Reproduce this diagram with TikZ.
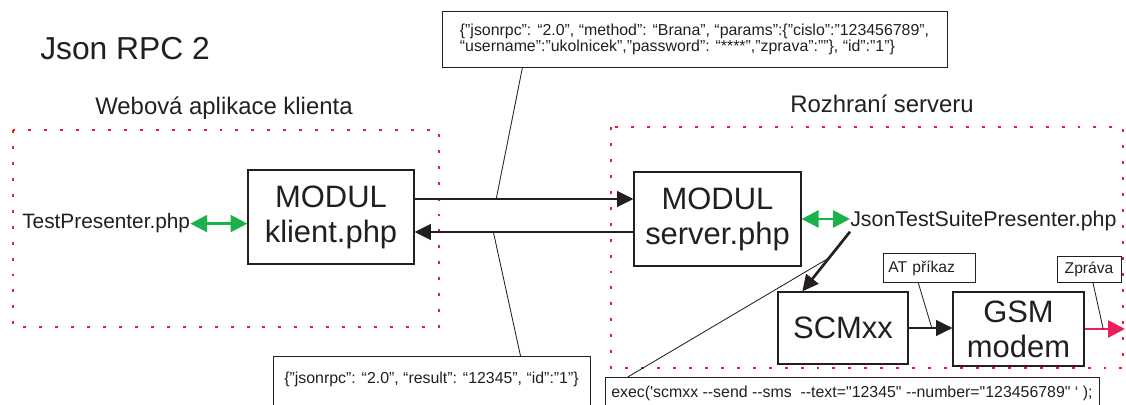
\documentclass[tikz,border=0pt]{standalone}
\usepackage{fontspec}
\setmainfont{Liberation Sans}
\newfontfamily\codefont{Liberation Sans}[Ligatures=TeXOff]
\usepackage{xcolor}
\definecolor{Ink}{RGB}{35,31,32}
\definecolor{Red}{RGB}{237,28,36}
\definecolor{Green}{RGB}{28,178,75}
\definecolor{Pink}{RGB}{237,30,90}
\usetikzlibrary{arrows.meta,calc}
\tikzset{
	zone/.style={draw=Red, line width=2.1pt, dash pattern=on 2.1pt off 9.24pt, line cap=butt},
	module/.style={draw=Ink, line width=0.85pt, text=Ink, align=center, inner sep=0pt, font=\fontsize{22}{24.8}\selectfont},
	heading/.style={text=Ink, inner sep=0pt, anchor=base west, font=\fontsize{17}{20}\selectfont},
	filetext/.style={text=Ink, inner sep=0pt, anchor=base west, font=\fontsize{14.8}{17}\selectfont},
	note/.style={draw=Ink, line width=0.6pt, text=Ink, inner sep=0pt, font=\codefont\fontsize{11.3}{11.3}\selectfont},
	tag/.style={draw=Ink, line width=0.6pt, text=Ink, inner sep=0pt, font=\fontsize{11.1}{13}\selectfont},
	flow/.style={draw=Ink, line width=1.9pt, -{Triangle[length=11.5pt,width=11pt]}},
	link/.style={draw=Green, line width=1.9pt, {Triangle[length=12pt,width=12pt]}-{Triangle[length=12pt,width=12pt]}},
	sendline/.style={draw=Pink, line width=1.9pt, -{Triangle[length=12pt,width=12pt]}},
	leader/.style={draw=Ink, line width=0.6pt}
}

\begin{document}
\begin{tikzpicture}[x=0.025cm, y=-0.025cm]
		\useasboundingbox (0,0) rectangle (1126,405);
		\clip (0,0) rectangle (1126,405);
		
		% Zones
		\draw[zone] (13,130) rectangle (439,327);
		\draw[zone] (611,127) rectangle (1123,368);
		
		% Names
		\node[heading, font=\fontsize{22.6}{27}\selectfont] (title) at (40,60) {Json RPC 2};
		\node[heading] (clientzone) at (95,115) {Webová aplikace klienta};
		\node[heading] (serverzone) at (790,113) {Rozhraní serveru};
		
		% Blocks
		\node[module, minimum width=4.15cm, minimum height=2.35cm] (klient) at (331,217) {MODUL\\klient.php};
		\node[module, minimum width=4.175cm, minimum height=2.35cm] (server) at (717.5,219) {MODUL\\server.php};
		\node[module, minimum width=3.25cm, minimum height=1.8cm] (scm) at (843,328) {SCMxx};
		\node[module, minimum width=3.275cm, minimum height=1.85cm] (gsm) at (1018.5,329) {GSM\\modem};
		
		% Files
		\node[filetext] (testp) at (22,229) {TestPresenter.php};
		\node[filetext, font=\fontsize{15.2}{17}\selectfont] (jts) at (850,227) {JsonTestSuitePresenter.php};
		
		% Messages
		\node[note, minimum width=12.625cm, minimum height=1.4cm, align=left] (req) at (694.5,39)
			{\{”jsonrpc”: “2.0”, “method”: “Brana”, “params”:\{”cislo”:”123456789”,\\“username”:”ukolnicek”,”password”: “****”,”zprava”:””\}, “id”:”1”\}};
		\node[note, anchor=north, minimum width=7.925cm, text height=19.1pt, text depth=40pt] (result) at (431.5,356)
			{\{”jsonrpc”: “2.0”, “result”: “12345”, “id”:”1”\}};
		\node[note, anchor=north, minimum width=12.35cm, text height=14.2pt, text depth=40pt] (exec) at (852,377)
			{exec('scmxx --send --sms\ \ --text="12345" --number="123456789" ‘ );};
		\node[tag, anchor=north west, inner xsep=3.54pt, text width=2.05cm, minimum height=0.725cm, align=left] (atcmd) at (883,253) {AT příkaz};
		\node[tag, minimum width=1.6cm, minimum height=0.65cm] (sms) at (1089,269) {Zpráva};
		
		% Exchange
		\draw[link] (testp.east) -- (testp.east -| klient.west);
		\draw[link] (server.east) -- (server.east -| jts.west);
		
		\coordinate (reqA) at ($(klient.east)+(0,-18)$);
		\coordinate (resA) at ($(server.west)+(0,13)$);
		\draw[flow] (reqA) -- coordinate[pos=0.373] (reqpt) (reqA -| server.west);
		\draw[flow] (resA) -- coordinate[pos=0.64] (respt) (resA -| klient.east);
		
		\draw[flow] (jts.south west) -- coordinate[pos=0.44] (cmdpt) ($(scm.north west)!0.19!(scm.north east)$);
		\draw[flow] (scm.east) -- coordinate[pos=0.53] (atpt) (scm.east -| gsm.west);
		\coordinate (air) at (1125,329);
		\draw[sendline] (gsm.east) -- coordinate[pos=0.46] (smspt) (air);
		
		% Callouts
		\draw[leader] ($(req.south west)!0.16!(req.south east)$) -- (reqpt);
		\draw[leader] ($(result.north west)!0.78!(result.north east)$) -- (respt);
		\draw[leader] ($(exec.north west)!0.047!(exec.north east)$) -- (cmdpt);
		\draw[leader] ($(atcmd.south west)!0.38!(atcmd.south east)$) -- (atpt);
		\draw[leader] ($(sms.south west)!0.56!(sms.south east)$) -- (smspt);
		
\end{tikzpicture}
\end{document}
